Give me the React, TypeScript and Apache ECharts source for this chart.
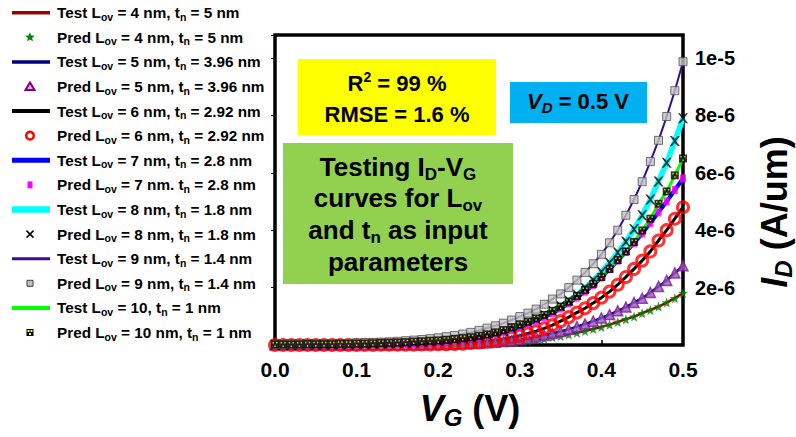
import React, { useEffect, useRef } from 'react';
import * as echarts from 'echarts';

// Gate voltage (V)
const VG = [0.0, 0.01, 0.02, 0.03, 0.04, 0.05, 0.06, 0.07, 0.08, 0.09, 0.1, 0.11, 0.12, 0.13, 0.14, 0.15, 0.16, 0.17, 0.18, 0.19, 0.2, 0.21, 0.22, 0.23, 0.24, 0.25, 0.26, 0.27, 0.28, 0.29, 0.3, 0.31, 0.32, 0.33, 0.34, 0.35, 0.36, 0.37, 0.38, 0.39, 0.4, 0.41, 0.42, 0.43, 0.44, 0.45, 0.46, 0.47, 0.48, 0.49, 0.5];

// Drain current, in units of 1e-6 A/um
const ID_L4 = [0.0, 0.0, 0.0, 0.0, 0.0, 0.0, 0.0, 0.0, 0.0, 0.0, 0.0, 0.0, 0.0, 0.0, 0.0, 0.01, 0.01, 0.01, 0.01, 0.01, 0.01, 0.01, 0.01, 0.02, 0.02, 0.03, 0.04, 0.05, 0.07, 0.09, 0.11, 0.14, 0.18, 0.22, 0.27, 0.31, 0.37, 0.43, 0.49, 0.56, 0.63, 0.71, 0.8, 0.9, 0.99, 1.11, 1.22, 1.34, 1.48, 1.63, 1.81];
const ID_L5 = [0.0, 0.0, 0.0, 0.0, 0.0, 0.0, 0.0, 0.0, 0.0, 0.0, 0.0, 0.01, 0.01, 0.01, 0.01, 0.01, 0.01, 0.01, 0.01, 0.02, 0.02, 0.02, 0.03, 0.04, 0.05, 0.06, 0.08, 0.1, 0.12, 0.15, 0.19, 0.23, 0.28, 0.34, 0.4, 0.47, 0.55, 0.64, 0.73, 0.83, 0.94, 1.06, 1.19, 1.32, 1.48, 1.63, 1.83, 2.04, 2.25, 2.51, 2.76];
const ID_L6 = [0.0, 0.0, 0.0, 0.0, 0.0, 0.0, 0.0, 0.0, 0.0, 0.0, 0.0, 0.0, 0.0, 0.01, 0.01, 0.01, 0.01, 0.01, 0.02, 0.02, 0.03, 0.03, 0.04, 0.05, 0.07, 0.09, 0.12, 0.16, 0.2, 0.26, 0.32, 0.4, 0.48, 0.58, 0.69, 0.83, 0.97, 1.13, 1.28, 1.46, 1.65, 1.86, 2.1, 2.37, 2.65, 2.94, 3.26, 3.64, 4.0, 4.4, 4.8];
const ID_L7 = [0.01, 0.01, 0.01, 0.01, 0.01, 0.01, 0.01, 0.02, 0.02, 0.02, 0.02, 0.03, 0.03, 0.04, 0.04, 0.05, 0.06, 0.07, 0.08, 0.1, 0.12, 0.14, 0.17, 0.2, 0.24, 0.28, 0.33, 0.39, 0.46, 0.54, 0.63, 0.73, 0.84, 0.97, 1.11, 1.27, 1.45, 1.65, 1.86, 2.09, 2.35, 2.64, 2.94, 3.24, 3.55, 3.89, 4.25, 4.62, 5.0, 5.4, 5.8];
const ID_L8 = [0.01, 0.01, 0.01, 0.02, 0.02, 0.02, 0.02, 0.03, 0.03, 0.03, 0.04, 0.04, 0.05, 0.06, 0.06, 0.07, 0.08, 0.1, 0.11, 0.13, 0.15, 0.17, 0.2, 0.23, 0.27, 0.31, 0.36, 0.42, 0.5, 0.59, 0.68, 0.79, 0.91, 1.04, 1.19, 1.35, 1.54, 1.75, 1.99, 2.25, 2.54, 2.86, 3.22, 3.6, 4.03, 4.52, 5.07, 5.7, 6.35, 7.11, 7.9];
const ID_L9 = [0.02, 0.02, 0.03, 0.03, 0.03, 0.04, 0.04, 0.05, 0.05, 0.06, 0.07, 0.08, 0.09, 0.1, 0.11, 0.13, 0.15, 0.17, 0.19, 0.22, 0.25, 0.29, 0.33, 0.38, 0.44, 0.51, 0.59, 0.67, 0.76, 0.87, 0.99, 1.11, 1.25, 1.42, 1.6, 1.78, 2.0, 2.26, 2.53, 2.83, 3.16, 3.56, 4.0, 4.52, 5.07, 5.69, 6.39, 7.13, 7.96, 8.86, 9.87];
const ID_L10 = [0.02, 0.02, 0.02, 0.02, 0.03, 0.03, 0.03, 0.03, 0.04, 0.04, 0.05, 0.05, 0.06, 0.07, 0.08, 0.09, 0.1, 0.12, 0.13, 0.15, 0.16, 0.18, 0.21, 0.24, 0.27, 0.32, 0.37, 0.44, 0.52, 0.62, 0.71, 0.81, 0.93, 1.05, 1.19, 1.34, 1.51, 1.71, 1.92, 2.13, 2.37, 2.65, 2.96, 3.26, 3.59, 3.99, 4.4, 4.92, 5.35, 5.91, 6.5];

const X_TICKS = [0, 0.1, 0.2, 0.3, 0.4, 0.5];
const Y_TICK_STEP = 2;

const TEST_NAMES = [
  'Test Lov = 4 nm, tn = 5 nm',
  'Test Lov = 5 nm, tn = 3.96 nm',
  'Test Lov = 6 nm, tn = 2.92 nm',
  'Test Lov = 7 nm, tn = 2.8 nm',
  'Test Lov = 8 nm, tn = 1.8 nm',
  'Test Lov = 9 nm, tn = 1.4 nm',
  'Test Lov = 10, tn = 1 nm',
];
const PRED_NAMES = [
  'Pred Lov = 4 nm, tn = 5 nm',
  'Pred Lov = 5 nm, tn = 3.96 nm',
  'Pred Lov = 6 nm, tn = 2.92 nm',
  'Pred Lov = 7 nm. tn = 2.8 nm',
  'Pred Lov = 8 nm, tn = 1.8 nm',
  'Pred Lov = 9 nm, tn = 1.4 nm',
  'Pred Lov = 10 nm, tn = 1 nm',
];
const LEGEND_LABELS = [
  'Test L{s|ov} = 4 nm, t{s|n} = 5 nm',
  'Pred L{s|ov} = 4 nm, t{s|n} = 5 nm',
  'Test L{s|ov} = 5 nm, t{s|n} = 3.96 nm',
  'Pred L{s|ov} = 5 nm, t{s|n} = 3.96 nm',
  'Test L{s|ov} = 6 nm, t{s|n} = 2.92 nm',
  'Pred L{s|ov} = 6 nm, t{s|n} = 2.92 nm',
  'Test L{s|ov} = 7 nm, t{s|n} = 2.8 nm',
  'Pred L{s|ov} = 7 nm. t{s|n} = 2.8 nm',
  'Test L{s|ov} = 8 nm, t{s|n} = 1.8 nm',
  'Pred L{s|ov} = 8 nm, t{s|n} = 1.8 nm',
  'Test L{s|ov} = 9 nm, t{s|n} = 1.4 nm',
  'Pred L{s|ov} = 9 nm, t{s|n} = 1.4 nm',
  'Test L{s|ov} = 10, t{s|n} = 1 nm',
  'Pred L{s|ov} = 10 nm, t{s|n} = 1 nm',
];

const FONT = '"Liberation Sans", Arial, Helvetica, sans-serif';

const LINE_STYLES = [
  { color: '#990000', width: 2.5 },
  { color: '#000080', width: 2.5 },
  { color: '#000000', width: 3 },
  { color: '#0000FF', width: 4 },
  { color: '#00FFFF', width: 5.5 },
  { color: '#3D0A91', width: 2 },
  { color: '#00FF00', width: 3 },
];

const STAR = 'path://M0,-10 L2.35,-3.24 L9.51,-3.09 L3.8,1.24 L5.88,8.09 L0,4.5 L-5.88,8.09 L-3.8,1.24 L-9.51,-3.09 L-2.35,-3.24 Z';
const CROSS = 'path://M0,0 L2,0 L5,3.2 L8,0 L10,0 L6,5 L10,10 L8,10 L5,6.8 L2,10 L0,10 L4,5 Z';
const DOTS = 'path://M0,0 L2,0 L2,2 L0,2 Z M5,0 L7,0 L7,2 L5,2 Z M2.5,4.5 L4.5,4.5 L4.5,6.5 L2.5,6.5 Z';

const PRED_STYLES: any[] = [
  { symbol: STAR, symbolSize: 10, itemStyle: { color: '#008000' } },
  { symbol: 'triangle', symbolSize: 10, itemStyle: { color: '#9B59C6', borderColor: '#7A1F8F', borderWidth: 1.5 } },
  { symbol: 'circle', symbolSize: 11, itemStyle: { color: 'rgba(0,0,0,0)', borderColor: '#FF0000', borderWidth: 3 } },
  { symbol: 'rect', symbolSize: [6, 8], itemStyle: { color: '#FF00FF' } },
  { symbol: CROSS, symbolSize: 10, itemStyle: { color: '#000000' } },
  { symbol: 'rect', symbolSize: 8, itemStyle: { color: '#C0C0C0', borderColor: '#505050', borderWidth: 1 } },
  { symbol: 'rect', symbolSize: 8, itemStyle: { color: '#000000' } },
];

const CURVES = [ID_L4, ID_L5, ID_L6, ID_L7, ID_L8, ID_L9, ID_L10];

function legendGraphics(): any[] {
  const els: any[] = [];
  const y0 = 12.7;
  const step = 24.6;
  LEGEND_LABELS.forEach((label, k) => {
    const y = y0 + step * k;
    const idx = Math.floor(k / 2);
    if (k % 2 === 0) {
      const ls = LINE_STYLES[idx];
      els.push({ type: 'line', shape: { x1: 12, y1: y, x2: 50, y2: y }, style: { stroke: ls.color, lineWidth: ls.width + 1 } });
    } else {
      const cx = 30;
      if (idx === 0) {
        const pts: number[][] = [];
        for (let j = 0; j < 10; j++) {
          const r = j % 2 === 0 ? 5 : 2.2;
          const a = -Math.PI / 2 + (j * Math.PI) / 5;
          pts.push([cx + r * Math.cos(a), y + r * Math.sin(a)]);
        }
        els.push({ type: 'polygon', shape: { points: pts }, style: { fill: '#008000' } });
      } else if (idx === 1) {
        els.push({ type: 'polygon', shape: { points: [[cx, y - 4], [cx + 4.5, y + 3.5], [cx - 4.5, y + 3.5]] }, style: { fill: '#D9B3FF', stroke: '#800080', lineWidth: 2 } });
      } else if (idx === 2) {
        els.push({ type: 'circle', shape: { cx, cy: y, r: 3.8 }, style: { fill: '#FFFFFF', stroke: '#FF0000', lineWidth: 2.5 } });
      } else if (idx === 3) {
        els.push({ type: 'rect', shape: { x: cx - 2.5, y: y - 3.5, width: 5, height: 7 }, style: { fill: '#FF00FF' } });
      } else if (idx === 4) {
        els.push({ type: 'line', shape: { x1: cx - 3.5, y1: y - 3.5, x2: cx + 3.5, y2: y + 3.5 }, style: { stroke: '#000', lineWidth: 1.5 } });
        els.push({ type: 'line', shape: { x1: cx - 3.5, y1: y + 3.5, x2: cx + 3.5, y2: y - 3.5 }, style: { stroke: '#000', lineWidth: 1.5 } });
      } else if (idx === 5) {
        els.push({ type: 'rect', shape: { x: cx - 3, y: y - 3, width: 6, height: 6 }, style: { fill: '#C0C0C0', stroke: '#404040', lineWidth: 1 } });
      } else {
        els.push({ type: 'rect', shape: { x: cx - 3.5, y: y - 3.5, width: 7, height: 7 }, style: { fill: '#000' } });
        els.push({ type: 'rect', shape: { x: cx - 2.5, y: y - 2.5, width: 2, height: 2 }, style: { fill: '#FFFF00' } });
        els.push({ type: 'rect', shape: { x: cx + 0.5, y: y - 2.5, width: 2, height: 2 }, style: { fill: '#FFFF00' } });
        els.push({ type: 'rect', shape: { x: cx - 1, y: y + 0.5, width: 2, height: 2 }, style: { fill: '#FFFF00' } });
      }
    }
    els.push({
      type: 'text',
      x: 57,
      y,
      style: {
        text: label,
        fontSize: 15.3,
        fontWeight: 'bold',
        fontFamily: FONT,
        fill: '#000',
        align: 'left',
        verticalAlign: 'middle',
        lineHeight: 20,
        rich: {
          s: { fontSize: 10.5, fontWeight: 'bold', fontFamily: FONT, fill: '#000', padding: [8, 0, 0, 0] },
        },
      },
    });
  });
  return els;
}

function boxGraphics(): any[] {
  const els: any[] = [];
  // Yellow metrics box
  els.push({ type: 'rect', shape: { x: 298, y: 59, width: 198, height: 76 }, style: { fill: '#FFFF00' } });
  els.push({
    type: 'text', x: 397, y: 83,
    style: {
      text: 'R{sup|2} = 99 %', fontSize: 22, fontWeight: 'bold', fontFamily: FONT, fill: '#000',
      align: 'center', verticalAlign: 'middle', lineHeight: 28,
      rich: { sup: { fontSize: 14, fontWeight: 'bold', fontFamily: FONT, fill: '#000', padding: [0, 0, 12, 0] } },
    },
  });
  els.push({
    type: 'text', x: 397, y: 114,
    style: { text: 'RMSE = 1.6 %', fontSize: 22, fontWeight: 'bold', fontFamily: FONT, fill: '#000', align: 'center', verticalAlign: 'middle' },
  });
  // Green description box
  els.push({ type: 'rect', shape: { x: 283, y: 143, width: 230, height: 141 }, style: { fill: '#92D050' } });
  const greenLines = [
    { t: 'Testing I{s|D}-V{s|G}', y: 167 },
    { t: 'curves for L{s|ov}', y: 198 },
    { t: 'and t{s|n} as input', y: 230 },
    { t: 'parameters', y: 262 },
  ];
  greenLines.forEach((g) => {
    els.push({
      type: 'text', x: 398, y: g.y,
      style: {
        text: g.t, fontSize: 26, fontWeight: 'bold', fontFamily: FONT, fill: '#000',
        align: 'center', verticalAlign: 'middle', lineHeight: 32,
        rich: { s: { fontSize: 17, fontWeight: 'bold', fontFamily: FONT, fill: '#000', padding: [14, 0, 0, 0] } },
      },
    });
  });
  // Blue V_D box
  els.push({ type: 'rect', shape: { x: 510, y: 82, width: 137, height: 41 }, style: { fill: '#00B0F0' } });
  els.push({
    type: 'text', x: 578, y: 101,
    style: {
      text: '{i|V}{is|D} = 0.5 V', fontSize: 22, fontWeight: 'bold', fontFamily: FONT, fill: '#000',
      align: 'center', verticalAlign: 'middle', lineHeight: 28,
      rich: {
        i: { fontSize: 22, fontWeight: 'bold', fontStyle: 'italic', fontFamily: FONT, fill: '#000' },
        is: { fontSize: 15, fontWeight: 'bold', fontStyle: 'italic', fontFamily: FONT, fill: '#000', padding: [12, 0, 0, 0] },
      },
    },
  });
  // Axis titles
  els.push({
    type: 'text', x: 470, y: 408,
    style: {
      text: '{i|V}{is|G} (V)', fontSize: 36, fontWeight: 'bold', fontFamily: FONT, fill: '#000',
      align: 'center', verticalAlign: 'middle', lineHeight: 44,
      rich: {
        i: { fontSize: 36, fontWeight: 'bold', fontStyle: 'italic', fontFamily: FONT, fill: '#000' },
        is: { fontSize: 24, fontWeight: 'bold', fontStyle: 'italic', fontFamily: FONT, fill: '#000', padding: [18, 0, 0, 0] },
      },
    },
  });
  els.push({
    type: 'text', x: 774, y: 212, rotation: Math.PI / 2,
    style: {
      text: '{i|I}{is|D} (A/um)', fontSize: 36, fontWeight: 'bold', fontFamily: FONT, fill: '#000',
      align: 'center', verticalAlign: 'middle', lineHeight: 44,
      rich: {
        i: { fontSize: 36, fontWeight: 'bold', fontStyle: 'italic', fontFamily: FONT, fill: '#000' },
        is: { fontSize: 24, fontWeight: 'bold', fontStyle: 'italic', fontFamily: FONT, fill: '#000', padding: [18, 0, 0, 0] },
      },
    },
  });
  return els;
}

export default function App() {
  const ref = useRef<HTMLDivElement>(null);
  useEffect(() => {
    if (!ref.current) return;
    const chart = echarts.init(ref.current, undefined, { renderer: 'svg' });

    const lineSeries = CURVES.map((c, i) => ({
      name: TEST_NAMES[i],
      type: 'line',
      data: VG.map((v, j) => [v, c[j]]),
      showSymbol: false,
      symbol: 'none',
      smooth: false,
      lineStyle: { color: LINE_STYLES[i].color, width: LINE_STYLES[i].width },
      itemStyle: { color: LINE_STYLES[i].color },
      z: 2,
      silent: true,
    }));
    const predSeries = CURVES.map((c, i) => ({
      name: PRED_NAMES[i],
      type: 'scatter',
      data: VG.map((v, j) => [v, c[j]]),
      ...PRED_STYLES[i],
      z: 3,
      silent: true,
    }));
    const dotsSeries = {
      name: PRED_NAMES[6] + ' ',
      type: 'scatter',
      data: VG.map((v, j) => [v, ID_L10[j]]),
      symbol: DOTS,
      symbolSize: 5,
      itemStyle: { color: '#FFFF00' },
      z: 4,
      silent: true,
    };

    const yLabel = (v: number) => {
      if (v <= 0) return '';
      const q = v / Y_TICK_STEP;
      if (Math.abs(q - Math.round(q)) > 1e-6) return '';
      return (v * 1e-6).toExponential(0);
    };

    chart.setOption({
      animation: false,
      backgroundColor: '#FFFFFF',
      grid: {
        left: 275, top: 35, width: 408, height: 310,
        show: true, borderColor: '#000', borderWidth: 3.5, backgroundColor: 'transparent',
      },
      xAxis: {
        type: 'value', min: X_TICKS[0], max: X_TICKS[X_TICKS.length - 1], interval: 0.1,
        axisLine: { show: false },
        axisTick: { show: true, inside: true, length: 5, lineStyle: { color: '#000', width: 1.5 } },
        splitLine: { show: false },
        axisLabel: {
          formatter: (v: number) => v.toFixed(1), color: '#000', fontSize: 21, fontWeight: 'bold', fontFamily: FONT, margin: 14,
        },
      },
      yAxis: [
        {
          type: 'value', position: 'right', min: 0, max: 10.8, interval: Y_TICK_STEP,
          axisLine: { show: false }, axisTick: { show: false }, splitLine: { show: false },
          axisLabel: { formatter: yLabel, color: '#000', fontSize: 20, fontWeight: 'bold', fontFamily: FONT, margin: 12 },
        },
        {
          type: 'value', position: 'left', min: 0, max: 10.8, interval: Y_TICK_STEP,
          axisLine: { show: false }, axisTick: { show: true, inside: false, length: 4, lineStyle: { color: '#000', width: 1 } },
          splitLine: { show: false }, axisLabel: { show: false },
        },
      ],
      series: [...lineSeries, ...predSeries, dotsSeries],
      graphic: [...legendGraphics(), ...boxGraphics()],
    });
    return () => chart.dispose();
  }, []);
  return <div ref={ref} style={{ position: 'fixed', left: 0, top: 0, width: 796, height: 437, background: '#fff' }} />;
}
